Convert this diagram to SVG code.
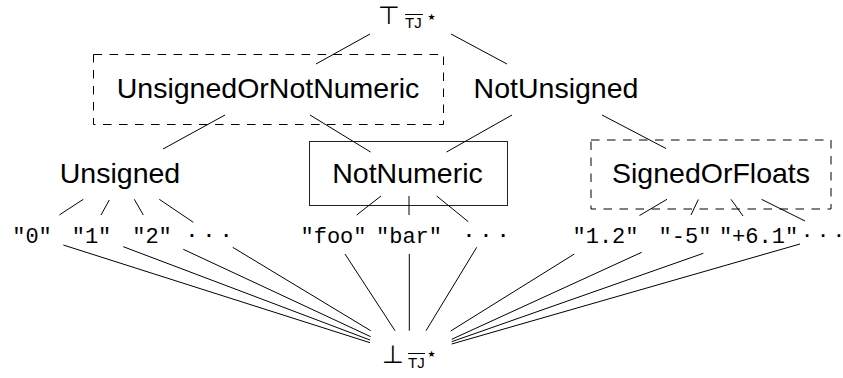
<svg xmlns="http://www.w3.org/2000/svg" width="843" height="378" viewBox="0 0 843 378">
<style>
.lbl{font-family:"Liberation Sans","Arial",sans-serif;font-size:28.5px;fill:#000;text-anchor:middle}
.lit{font-family:"Liberation Mono","Courier New",monospace;font-size:22px;fill:#000;text-anchor:middle}
.dots{font-family:"Liberation Sans","Arial",sans-serif;font-size:28px;fill:#000;text-anchor:middle}
.sym{font-family:"DejaVu Sans",sans-serif;font-size:25px;fill:#000;text-anchor:middle}
.sub{font-family:"Liberation Sans","Arial",sans-serif;font-size:15px;fill:#000}
.star{font-family:"DejaVu Sans",sans-serif;font-size:9px;fill:#000}
.dash{fill:none;stroke:#000;stroke-width:1;stroke-dasharray:8.5 7.5}
.solid{fill:none;stroke:#222;stroke-width:1}
#edges line{stroke:#000;stroke-width:1}
</style>
<g id="top">
<text class="sym" x="389" y="24">⊤</text>
<text class="sub" x="405" y="28">TJ</text>
<line x1="405" y1="14.5" x2="423" y2="14.5" stroke="#000" stroke-width="1"/>
<text class="star" x="427.5" y="20">★</text>
</g>
<g id="unsignedOrNotNumeric">
<rect class="dash" x="93.5" y="54.5" width="350" height="70"/>
<text class="lbl" x="268" y="98">UnsignedOrNotNumeric</text>
</g>
<g id="notUnsigned"><text class="lbl" x="556" y="98">NotUnsigned</text></g>
<g id="unsigned"><text class="lbl" x="120" y="183">Unsigned</text></g>
<g id="notNumeric">
<rect class="solid" x="309.5" y="141.5" width="198" height="64"/>
<text class="lbl" x="407.5" y="183">NotNumeric</text>
</g>
<g id="signedOrFloats">
<rect class="dash" x="591" y="140" width="240" height="69"/>
<text class="lbl" x="711" y="183">SignedOrFloats</text>
</g>
<g id="s0"><text class="lit" x="32" y="243">"0"</text></g>
<g id="s1"><text class="lit" x="91.5" y="243">"1"</text></g>
<g id="s2"><text class="lit" x="152" y="243">"2"</text></g>
<g id="sdots1"><text class="dots" x="209" y="243">· · ·</text></g>
<g id="sfoo"><text class="lit" x="333.5" y="243">"foo"</text></g>
<g id="sbar"><text class="lit" x="409" y="243">"bar"</text></g>
<g id="sdots2"><text class="dots" x="486" y="243">· · ·</text></g>
<g id="s12"><text class="lit" x="605.5" y="243">"1.2"</text></g>
<g id="sm5"><text class="lit" x="685" y="243">"-5"</text></g>
<g id="sp61"><text class="lit" x="758.5" y="243">"+6.1"</text></g>
<g id="sdots3"><text class="dots" x="823" y="243" style="font-size:26px">· · ·</text></g>
<g id="bottom">
<text class="sym" x="393" y="363">⊥</text>
<text class="sub" x="408" y="368">TJ</text>
<line x1="408" y1="353.5" x2="425" y2="353.5" stroke="#000" stroke-width="1"/>
<text class="star" x="427.5" y="357">★</text>
</g>
<g id="edges">
<line x1="370" y1="34" x2="316" y2="64"/>
<line x1="451" y1="34" x2="507" y2="64"/>
<line x1="225" y1="115" x2="163" y2="149"/>
<line x1="310" y1="115" x2="370.5" y2="152"/>
<line x1="512" y1="115" x2="446.5" y2="152"/>
<line x1="602" y1="115" x2="666" y2="148.5"/>
<line x1="83.3" y1="199.3" x2="59.3" y2="215"/>
<line x1="109.3" y1="200" x2="101" y2="215"/>
<line x1="134.3" y1="199.3" x2="143.3" y2="215"/>
<line x1="159.3" y1="199.3" x2="193.3" y2="222.3"/>
<line x1="381" y1="196" x2="356.7" y2="215"/>
<line x1="409" y1="196" x2="409" y2="215"/>
<line x1="436.7" y1="196" x2="468.3" y2="221.7"/>
<line x1="667" y1="199.3" x2="639.5" y2="215.5"/>
<line x1="698.3" y1="199.5" x2="691" y2="215"/>
<line x1="731" y1="199.3" x2="743" y2="216"/>
<line x1="761.5" y1="199.3" x2="805" y2="221"/>
<line x1="63.3" y1="245" x2="370" y2="342.7"/>
<line x1="123.3" y1="246.7" x2="370" y2="340"/>
<line x1="183.3" y1="249.3" x2="370.7" y2="336.7"/>
<line x1="232.7" y1="247.3" x2="370.7" y2="330.7"/>
<line x1="345" y1="254" x2="395" y2="330.7"/>
<line x1="409.3" y1="254" x2="409.3" y2="330.7"/>
<line x1="476.7" y1="247.3" x2="426" y2="330.7"/>
<line x1="574.3" y1="254" x2="450.7" y2="331"/>
<line x1="641.7" y1="252.3" x2="451.7" y2="339.3"/>
<line x1="703.3" y1="253.3" x2="451.7" y2="341.7"/>
<line x1="800" y1="244" x2="451.7" y2="344"/>
</g>
</svg>
